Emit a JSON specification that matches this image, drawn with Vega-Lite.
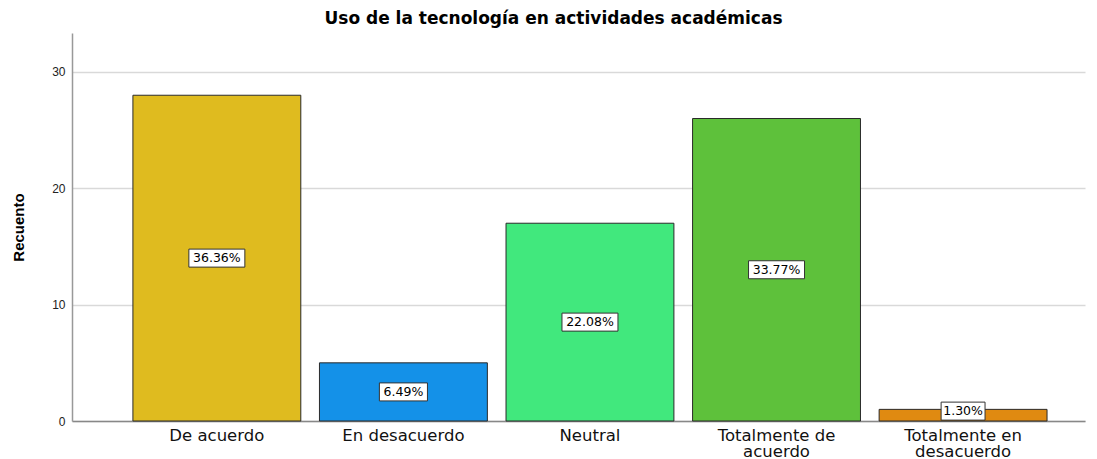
{
  "$schema": "https://vega.github.io/schema/vega-lite/v6.json",
  "autosize": "none",
  "width": 1013,
  "height": 388,
  "padding": {"left": 72, "top": 33, "right": 12, "bottom": 38},
  "background": "white",
  "title": {
    "text": "Uso de la tecnología en actividades académicas",
    "font": "DejaVu Sans",
    "fontSize": 17,
    "fontWeight": "bold",
    "color": "#000000",
    "anchor": "middle",
    "frame": "group",
    "dx": -25,
    "offset": 5
  },
  "data": {
    "values": [
      {"cat": "De acuerdo", "count": 28, "pct": "36.36%"},
      {"cat": "En desacuerdo", "count": 5, "pct": "6.49%"},
      {"cat": "Neutral", "count": 17, "pct": "22.08%"},
      {"cat": "Totalmente de acuerdo", "count": 26, "pct": "33.77%"},
      {"cat": "Totalmente en desacuerdo", "count": 1, "pct": "1.30%"}
    ]
  },
  "encoding": {
    "x": {
      "field": "cat",
      "type": "nominal",
      "sort": null,
      "scale": {"paddingInner": 0.1, "paddingOuter": 0.265, "align": 0.616},
      "axis": {
        "title": null,
        "labelAngle": 0,
        "labelFont": "DejaVu Sans",
        "labelFontSize": 16.5,
        "labelColor": "#111111",
        "labelPadding": 6,
        "labelLineHeight": 16.5,
        "labelExpr": "datum.label == 'Totalmente de acuerdo' ? ['Totalmente de', 'acuerdo'] : datum.label == 'Totalmente en desacuerdo' ? ['Totalmente en', 'desacuerdo'] : datum.label",
        "ticks": false,
        "domainColor": "#888888",
        "domainWidth": 1.5,
        "grid": false
      }
    }
  },
  "layer": [
    {
      "mark": {"type": "bar", "stroke": "#2a2a2a", "strokeWidth": 1},
      "encoding": {
        "y": {
          "field": "count",
          "type": "quantitative",
          "scale": {"domain": [0, 33.35], "nice": false},
          "axis": {
            "title": "Recuento",
            "titleFont": "Liberation Sans",
            "titleFontSize": 15,
            "titleFontWeight": "bold",
            "titleColor": "#000000",
            "titlePadding": 25,
            "values": [0, 10, 20, 30],
            "labelFont": "Liberation Sans",
            "labelFontSize": 12,
            "labelColor": "#222222",
            "labelPadding": 7,
            "ticks": false,
            "domainColor": "#999999",
            "domainWidth": 1.5,
            "gridColor": "#d9d9d9",
            "gridWidth": 1.5
          }
        },
        "color": {
          "field": "cat",
          "type": "nominal",
          "sort": null,
          "legend": null,
          "scale": {
            "domain": ["De acuerdo", "En desacuerdo", "Neutral", "Totalmente de acuerdo", "Totalmente en desacuerdo"],
            "range": ["#DFBB1F", "#1491E8", "#41E87D", "#5EC13B", "#E08A11"]
          }
        }
      }
    },
    {
      "transform": [{"calculate": "max(datum.count / 2, 0.85)", "as": "mid"}],
      "mark": {"type": "point", "filled": true, "fill": "white", "stroke": "#333333", "strokeWidth": 1, "opacity": 1, "size": 324},
      "encoding": {
        "y": {"field": "mid", "type": "quantitative"},
        "shape": {
          "field": "pct",
          "type": "nominal",
          "legend": null,
          "scale": {
            "domain": ["36.36%", "6.49%", "22.08%", "33.77%", "1.30%"],
            "range": [
              "M-3.11,-1H3.11V1H-3.11Z",
              "M-2.67,-1H2.67V1H-2.67Z",
              "M-3.11,-1H3.11V1H-3.11Z",
              "M-3.11,-1H3.11V1H-3.11Z",
              "M-2.44,-1H2.44V1H-2.44Z"
            ]
          }
        }
      }
    },
    {
      "transform": [{"calculate": "max(datum.count / 2, 0.85)", "as": "mid"}],
      "mark": {"type": "text", "font": "DejaVu Sans", "fontSize": 12.5, "color": "#000000", "baseline": "middle", "align": "center"},
      "encoding": {
        "y": {"field": "mid", "type": "quantitative"},
        "text": {"field": "pct"}
      }
    }
  ],
  "config": {"view": {"stroke": null}}
}
